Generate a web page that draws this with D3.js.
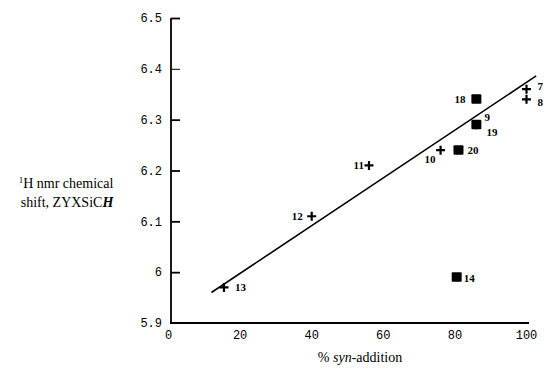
<!DOCTYPE html>
<html><head><meta charset="utf-8">
<script src="https://cdn.jsdelivr.net/npm/d3@7"></script>
<style>body{margin:0;background:#fff}svg{display:block}</style>
</head><body>
<svg id="c" width="546" height="369"></svg>
<script>
// Data
const crossIds = ["7","8","9","10","11","12","13"];
const crossX   = [100, 100, 86, 76, 56, 40, 15.5];
const crossY   = [6.36, 6.34, 6.29, 6.24, 6.21, 6.11, 5.97];
const squareIds = ["18","19","20","14"];
const squareX   = [86, 86, 81, 80.5];
const squareY   = [6.34, 6.29, 6.24, 5.99];
const fitX = [12, 102.7];
const fitY = [5.96, 6.386];
const xTicks = [0, 20, 40, 60, 80, 100];
const yTicks = [6.5, 6.4, 6.3, 6.2, 6.1, 6.0, 5.9];
const yTickLabels = ["6.5","6.4","6.3","6.2","6.1","6","5.9"];

const svg = d3.select("#c");
const x = d3.scaleLinear().domain([0,100]).range([168.5,526.5]);
const y = d3.scaleLinear().domain([5.9,6.5]).range([323,18]);

const mono = "'Liberation Mono','DejaVu Sans Mono',monospace";
const serif = "'Liberation Serif','Times New Roman',serif";

// Y axis
const yAxis = d3.axisRight(y).tickValues(yTicks.slice(0,6)).tickSize(9).tickFormat("");
const gy = svg.append("g").attr("transform","translate(171,0)").call(yAxis);
gy.select(".domain").attr("d",`M0,${y(6.5)}V${y(5.9)}`).attr("stroke","#000").attr("stroke-width",1.8);
gy.selectAll(".tick line").attr("stroke","#000").attr("stroke-width",(d)=>d===6.4?1:1.8);

svg.append("g").selectAll("text").data(yTicks).join("text")
  .attr("x",162).attr("y",d=>y(d)).attr("dy","0.35em")
  .attr("text-anchor","end").attr("font-family",mono).attr("font-size",12)
  .text((d,i)=>yTickLabels[i]);

// X axis
const xAxis = d3.axisBottom(x).tickValues(xTicks).tickSize(0).tickFormat("");
const gx = svg.append("g").attr("transform",`translate(0,${y(5.9)})`).call(xAxis);
gx.select(".domain").attr("d","M170,0H529").attr("stroke","#000").attr("stroke-width",1.8);

svg.append("g").selectAll("text").data(xTicks).join("text")
  .attr("x",d=>x(d)).attr("y",335).attr("dy","0.35em")
  .attr("text-anchor","middle").attr("font-family",mono).attr("font-size",12)
  .text(d=>d);

// Titles
const xt = svg.append("text").attr("x",360).attr("y",362).attr("text-anchor","middle")
  .attr("font-family",serif).attr("font-size",14);
xt.append("tspan").text("% ");
xt.append("tspan").attr("font-style","italic").text("syn");
xt.append("tspan").text("-addition");

const yt1 = svg.append("text").attr("x",66).attr("y",188).attr("text-anchor","middle")
  .attr("font-family",serif).attr("font-size",14);
yt1.append("tspan").attr("font-size",9).attr("dy",-5).text("1");
yt1.append("tspan").attr("dy",5).text("H nmr chemical");
const yt2 = svg.append("text").attr("x",67).attr("y",207).attr("text-anchor","middle")
  .attr("font-family",serif).attr("font-size",14);
yt2.append("tspan").text("shift, ZYXSiC");
yt2.append("tspan").attr("font-style","italic").attr("font-weight","bold").text("H");

// Fit line
const line = d3.line().x(d=>x(d[0])).y(d=>y(d[1]));
svg.append("path").datum(fitX.map((v,i)=>[v,fitY[i]])).attr("d",line)
  .attr("fill","none").attr("stroke","#000").attr("stroke-width",1.6);

// Crosses
const crosses = crossIds.map((id,i)=>({id,x:crossX[i],y:crossY[i]}));
const squares = squareIds.map((id,i)=>({id,x:squareX[i],y:squareY[i]}));
const cg = svg.append("g");
crosses.forEach(d=>{
  const cx=x(d.x), cy=y(d.y);
  cg.append("path").attr("d",`M${cx-4.5},${cy}H${cx+4.5}M${cx},${cy-4.5}V${cy+4.5}`)
    .attr("stroke","#000").attr("stroke-width",2.2);
});
svg.append("g").selectAll("rect").data(squares).join("rect")
  .attr("x",d=>x(d.x)-5).attr("y",d=>y(d.y)-5).attr("width",10).attr("height",9.5)
  .attr("rx",1).attr("fill","#000");

// Point labels
const place = {
  "7":[11,-3,"start"], "8":[11,3,"start"], "9":[8,-8,"start"], "10":[-5,9,"end"],
  "11":[-5,0,"end"], "12":[-9,0,"end"], "13":[11,0,"start"],
  "18":[-11,0,"end"], "19":[10,7,"start"], "20":[9,0,"start"], "14":[7,1,"start"]
};
svg.append("g").selectAll("text").data(crosses.concat(squares)).join("text")
  .attr("x",d=>x(d.x)+place[d.id][0]).attr("y",d=>y(d.y)+place[d.id][1])
  .attr("dy","0.35em").attr("text-anchor",d=>place[d.id][2])
  .attr("font-family",serif).attr("font-weight","bold").attr("font-size",11)
  .text(d=>d.id);
</script>
</body></html>
